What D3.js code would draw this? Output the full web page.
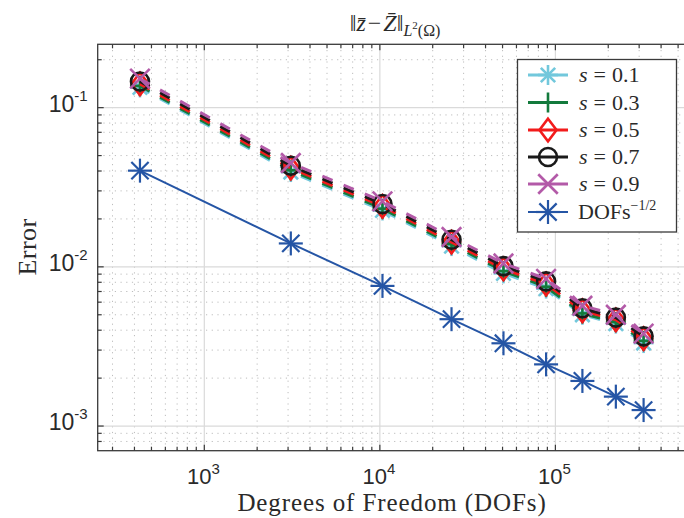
<!DOCTYPE html>
<html><head><meta charset="utf-8">
<script src="https://cdn.jsdelivr.net/npm/d3@7"></script>
<style>body{margin:0;background:#fff}svg{display:block}</style>
</head><body>
<svg id="c" width="684" height="518"></svg>
<script>
const dofs = [430, 3110, 10350, 25600, 50600, 88500, 142500, 221000, 318000];
const s01 = [0.134, 0.0394, 0.0226, 0.0135, 0.0091, 0.0073, 0.0050, 0.0044, 0.00332];
const s03 = [0.137, 0.0404, 0.0232, 0.0139, 0.0094, 0.0075, 0.0051, 0.0045, 0.00343];
const s05 = [0.141, 0.0417, 0.0240, 0.0143, 0.0097, 0.0078, 0.0053, 0.00465, 0.00354];
const s07 = [0.146, 0.0432, 0.0248, 0.0148, 0.0101, 0.0081, 0.0055, 0.0048, 0.00366];
const s09 = [0.152, 0.0449, 0.0258, 0.0154, 0.0105, 0.0084, 0.0057, 0.0050, 0.00381];
const ref = [0.0402, 0.01403, 0.00759, 0.00469, 0.00331, 0.00244, 0.00192, 0.00153, 0.00126];
const xTicks = [1e3, 1e4, 1e5];
const xTickExp = ["3", "4", "5"];
const yTicks = [1e-3, 1e-2, 1e-1];
const yTickExp = ["-3", "-2", "-1"];
const sValues = ["0.1", "0.3", "0.5", "0.7", "0.9"];

const svg = d3.select("#c");
const L = 97.7, R = 692, T = 44.3, B = 450.7;
const x = d3.scaleLog().domain([247, 6e5]).range([L, R]);
const y = d3.scaleLog().domain([7e-4, 0.25]).range([B, T]);

const xMinor = [], yMinor = [];
for (let e = 2; e <= 5; e++) for (let m = 2; m <= 9; m++) { const v = m * Math.pow(10, e); if (v > 247 && v < 6e5) xMinor.push(v); }
for (let e = -4; e <= -1; e++) for (let m = 2; m <= 9; m++) { const v = m * Math.pow(10, e); if (v > 7e-4 && v < 0.25) yMinor.push(v); }

const g = svg.append("g");
g.selectAll(".xm").data(xMinor).enter().append("line")
  .attr("x1", d => x(d)).attr("x2", d => x(d)).attr("y1", T).attr("y2", B)
  .attr("stroke", "#bdbdbd").attr("stroke-width", 1).attr("stroke-dasharray", "1.2,4.5");
g.selectAll(".ym").data(yMinor).enter().append("line")
  .attr("y1", d => y(d)).attr("y2", d => y(d)).attr("x1", L).attr("x2", R)
  .attr("stroke", "#bdbdbd").attr("stroke-width", 1).attr("stroke-dasharray", "1.2,4.5");
g.selectAll(".xM").data(xTicks).enter().append("line")
  .attr("x1", d => x(d)).attr("x2", d => x(d)).attr("y1", T).attr("y2", B)
  .attr("stroke", "#dadada").attr("stroke-width", 1.2);
g.selectAll(".yM").data(yTicks).enter().append("line")
  .attr("y1", d => y(d)).attr("y2", d => y(d)).attr("x1", L).attr("x2", R)
  .attr("stroke", "#dadada").attr("stroke-width", 1.2);

const axCol = "#3a3a3a";
const mkTicks = (sel, vals, isX, len, edge) => {
  sel.selectAll(null).data(vals).enter().append("line")
    .attr(isX ? "x1" : "y1", d => (isX ? x : y)(d)).attr(isX ? "x2" : "y2", d => (isX ? x : y)(d))
    .attr(isX ? "y1" : "x1", edge).attr(isX ? "y2" : "x2", d => edge + len)
    .attr("stroke", axCol).attr("stroke-width", 1.2);
};
mkTicks(g, xTicks, true, -6, B); mkTicks(g, xMinor, true, -4, B);
mkTicks(g, xTicks, true, 6, T); mkTicks(g, xMinor, true, 4, T);
mkTicks(g, yTicks, false, 6, L); mkTicks(g, yMinor, false, 4, L);
mkTicks(g, yTicks, false, -6, R); mkTicks(g, yMinor, false, -4, R);
g.append("rect").attr("x", L).attr("y", T).attr("width", R - L).attr("height", B - T)
  .attr("fill", "none").attr("stroke", axCol).attr("stroke-width", 1.3);

const sans = "'Liberation Sans', Arial, Helvetica, sans-serif";
const xl = g.selectAll(".xl").data(xTicks).enter().append("text")
  .attr("x", d => x(d) - 1).attr("y", 484).attr("text-anchor", "middle")
  .attr("font-family", sans).attr("font-size", 22).attr("fill", "#2a2a2a");
xl.append("tspan").text("10");
xl.append("tspan").attr("dy", -10).attr("font-size", 15).text((d, i) => xTickExp[i]);
const yl = g.selectAll(".yl").data(yTicks).enter().append("text")
  .attr("x", L - 10).attr("y", d => y(d) + 4).attr("text-anchor", "end")
  .attr("font-family", sans).attr("font-size", 23).attr("fill", "#2a2a2a");
yl.append("tspan").text("10");
yl.append("tspan").attr("dy", -11).attr("font-size", 15).text((d, i) => yTickExp[i]);

const serif = "'Liberation Serif', 'Times New Roman', serif";
svg.append("text").attr("x", 392).attr("y", 511).attr("text-anchor", "middle")
  .attr("font-family", serif).attr("font-size", 25).attr("letter-spacing", 0.9).attr("fill", "#2a2a2a")
  .text("Degrees of Freedom (DOFs)");
svg.append("text").attr("transform", "translate(36,247) rotate(-90)").attr("text-anchor", "middle")
  .attr("font-family", serif).attr("font-size", 26).attr("letter-spacing", 0.4).attr("fill", "#2a2a2a").text("Error");
const tt = svg.append("text").attr("x", 395).attr("y", 31).attr("text-anchor", "middle")
  .attr("font-family", serif).attr("font-size", 24).attr("fill", "#2a2a2a");
tt.append("tspan").text("\u2016");
tt.append("tspan").attr("font-style", "italic").text("z\u0304");
tt.append("tspan").attr("dx", 2).text("\u2212");
tt.append("tspan").attr("dx", 2).attr("font-style", "italic").text("Z\u0304");
tt.append("tspan").text("\u2016");
tt.append("tspan").attr("dy", 5).attr("font-size", 16).attr("font-style", "italic").text("L");
tt.append("tspan").attr("dy", -7).attr("font-size", 11).text("2");
tt.append("tspan").attr("dy", 7).attr("font-size", 16).text("(\u03A9)");

function marker(sel, type, cx, cy, color, r, sw) {
  const gg = sel.append("g").attr("transform", `translate(${cx},${cy})`)
    .attr("stroke", color).attr("stroke-width", sw).attr("fill", "none");
  const ln = (x1, y1, x2, y2) => gg.append("line").attr("x1", x1).attr("y1", y1).attr("x2", x2).attr("y2", y2);
  if (type === "star") { const d = r * 0.72; ln(-r, 0, r, 0); ln(0, -r, 0, r); ln(-d, -d, d, d); ln(-d, d, d, -d); }
  else if (type === "plus") { ln(-r, 0, r, 0); ln(0, -r, 0, r); }
  else if (type === "x") { const d = r * 0.75; ln(-d, -d, d, d); ln(-d, d, d, -d); }
  else if (type === "circle") { gg.append("circle").attr("r", r); }
  else if (type === "diamond") { gg.append("path").attr("d", `M0,${-r * 1.25}L${r * 0.95},0L0,${r * 1.25}L${-r * 0.95},0Z`); }
}

const series = [
  { vals: s01, color: "#72c8dc", type: "star", r: 10, label: sValues[0] },
  { vals: s03, color: "#137a3c", type: "plus", r: 10, label: sValues[1] },
  { vals: s05, color: "#f21b1b", type: "diamond", r: 9, label: sValues[2] },
  { vals: s07, color: "#1a1a1a", type: "circle", r: 9, label: sValues[3] },
  { vals: s09, color: "#b35aa8", type: "x", r: 13, label: sValues[4] }
];
const line = d3.line().x((d, i) => x(dofs[i])).y(d => y(d));
const plot = svg.append("g");
series.forEach(s => {
  plot.append("path").datum(s.vals).attr("d", line).attr("fill", "none")
    .attr("stroke", s.color).attr("stroke-width", 3).attr("stroke-dasharray", "11,12");
  s.vals.forEach((v, i) => marker(plot, s.type, x(dofs[i]), y(v), s.color, s.r, 2.6));
});
const blue = "#2555a5";
plot.append("path").datum(ref).attr("d", line).attr("fill", "none").attr("stroke", blue).attr("stroke-width", 2);
ref.forEach((v, i) => marker(plot, "star", x(dofs[i]), y(v), blue, 12, 2.2));

const lg = svg.append("g");
lg.append("rect").attr("x", 517.5).attr("y", 59.5).attr("width", 159).attr("height", 172.5)
  .attr("fill", "#fff").attr("stroke", "#3a3a3a").attr("stroke-width", 1.3);
const rows = [75, 102.5, 130, 157, 184, 212];
series.forEach((s, i) => {
  lg.append("line").attr("x1", 528).attr("x2", 568).attr("y1", rows[i]).attr("y2", rows[i])
    .attr("stroke", s.color).attr("stroke-width", 3);
  marker(lg, s.type, 548, rows[i], s.color, s.r, 2.6);
  const t = lg.append("text").attr("x", 579).attr("y", rows[i] + 7).attr("font-family", serif)
    .attr("font-size", 22).attr("fill", "#2a2a2a");
  t.append("tspan").attr("font-style", "italic").text("s");
  t.append("tspan").attr("dx", 6).text("=");
  t.append("tspan").attr("dx", 6).text(s.label);
});
lg.append("line").attr("x1", 528).attr("x2", 568).attr("y1", rows[5]).attr("y2", rows[5])
  .attr("stroke", blue).attr("stroke-width", 2);
marker(lg, "star", 548, rows[5], blue, 12, 2.2);
const tl = lg.append("text").attr("x", 578).attr("y", rows[5] + 7).attr("font-family", serif)
  .attr("font-size", 22).attr("fill", "#2a2a2a");
tl.append("tspan").text("DOFs");
tl.append("tspan").attr("dy", -9).attr("font-size", 14).text("\u22121/2");
</script>
</body></html>
